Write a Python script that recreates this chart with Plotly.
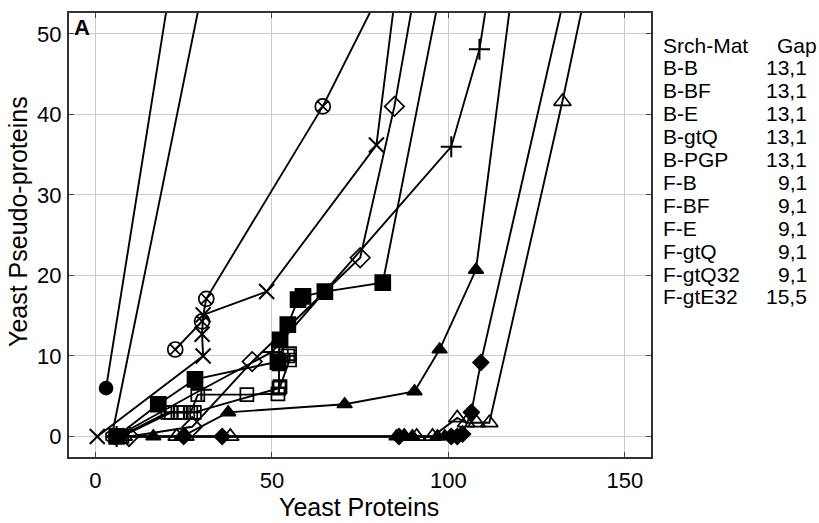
import plotly.graph_objects as go

# ---------------- data ----------------
fcircle_x = [3, 23.4]
fcircle_y = [6, 62]

hexo_x = [4.6, 33.3]
hexo_y = [0, 62]

xmark_x = [0.5, 30.5, 30.2, 30.5, 48.5, 79.6, 87.0]
xmark_y = [0, 10, 12.7, 15.1, 18, 36.2, 62]

cx_x = [22.6, 30.2, 31.4, 64.4, 88.5]
cx_y = [10.8, 14.3, 17.1, 41, 62]

dopen_x = [9.5, 27.4, 44.4, 75.0, 84.7, 93.2]
dopen_y = [0, 1.2, 9.3, 22.2, 41, 62]

fsq_x = [6, 17.8, 28.2, 51.7, 52.3, 54.5, 57.4, 58.8, 65, 81.4, 100.7]
fsq_y = [0, 4, 7.1, 9.3, 12, 13.9, 17, 17.4, 18, 19.1, 62]

osq_x = [7, 20.5, 24, 27, 29, 42.9, 51.7, 52.3, 55, 55]
osq_y = [0, 3, 3, 3, 5.2, 5.2, 5.3, 6.2, 9.5, 10.3]

sqplus_x = [7.5, 21.5, 25, 28, 52, 52, 54.5]
sqplus_y = [0, 3, 3, 3, 6, 9, 10]

plus_x = [6, 30, 50, 100.8, 108.8, 113.8]
plus_y = [0, 5.8, 10.5, 36, 48.1, 62]

ftri_x = [6.5, 16.4, 24.5, 37.6, 70.6, 90.4, 97.5, 107.8, 120.0]
ftri_y = [0, 0, 0, 3, 4, 5.6, 10.8, 20.7, 62]

ftri0_x = [25, 85.3, 87.5, 89.8, 96.9, 99]
ftri0_y = [0, 0, 0, 0, 0, 0]

fdia_x = [5.5, 25, 35.9, 86, 100.8, 102.5, 104, 106.5, 109.2, 136.7]
fdia_y = [0, 0, 0, 0, 0, 0, 0.3, 3, 9.2, 62]

otri_x = [8, 23, 25.5, 38.2, 87.5, 91, 95.5, 102.5, 105, 108, 111.6, 132.3, 142.1]
otri_y = [0, 0, 0, 0, 0, 0, 0, 2.3, 1.7, 1.7, 1.7, 41.6, 62]

legend_names = ["B-B", "B-BF", "B-E", "B-gtQ", "B-PGP", "F-B", "F-BF", "F-E",
                "F-gtQ", "F-gtQ32", "F-gtE32"]
legend_gaps = ["13,1", "13,1", "13,1", "13,1", "13,1", "9,1", "9,1", "9,1",
               "9,1", "9,1", "15,5"]

x_ticks = [0, 50, 100, 150]
y_ticks = [0, 10, 20, 30, 40, 50]

# ---------------- figure ----------------
FONT = "Arial, Liberation Sans, sans-serif"
fig = go.Figure()

def add(x, y, symbol, size, lw=1.9, mlw=1.7, mode="lines+markers"):
    fig.add_trace(go.Scatter(
        x=x, y=y, mode=mode,
        line=dict(color="black", width=lw),
        marker=dict(symbol=symbol, size=size, color="black",
                    line=dict(color="black", width=mlw)),
        showlegend=False, hoverinfo="skip"))

add(fcircle_x, fcircle_y, "circle", 13)
add(hexo_x, hexo_y, "hexagon-open", 13)
add(xmark_x, xmark_y, "x-thin-open", 15, mlw=2)
add(cx_x, cx_y, "circle-x-open", 15)
add(dopen_x, dopen_y, "diamond-open", 15)
add(fsq_x, fsq_y, "square", 15)
add(osq_x, osq_y, "square-open", 13)
add(sqplus_x, sqplus_y, "square-cross-open", 13)
add(plus_x, plus_y, "cross-thin-open", 15, mlw=2)
add(ftri_x, ftri_y, "triangle-up", 13)
add(ftri0_x, ftri0_y, "triangle-up", 13)
add(fdia_x, fdia_y, "diamond", 12)
add(otri_x, otri_y, "triangle-up-open", 15)

axis_common = dict(
    showgrid=True, gridcolor="#cccccc", gridwidth=1, zeroline=False,
    showline=True, linecolor="#333333", linewidth=2, mirror="ticks",
    ticks="inside", ticklen=5, tickcolor="#444444", tickwidth=1,
    tickfont=dict(family=FONT, size=22, color="black"),
)
fig.update_xaxes(range=[-7.5, 157.4], tickvals=x_ticks, ticklabelstandoff=3,
                 **axis_common)
fig.update_yaxes(range=[-2.55, 52.6], tickvals=y_ticks, ticklabelstandoff=1,
                 **axis_common)

PL, PR, PT, PB = 69, 651, 13, 457
W, H = 819, 523

def px(xp):
    return (xp - PL) / (PR - PL)

def py(yp):
    return (PB - yp) / (PB - PT)

ann = []
ann.append(dict(text="Yeast Proteins", x=px(359), y=py(507), xref="paper", yref="paper",
                showarrow=False, xanchor="center", yanchor="middle",
                font=dict(family=FONT, size=25, color="black")))
ann.append(dict(text="Yeast Pseudo-proteins", x=px(18), y=py(222), xref="paper", yref="paper",
                showarrow=False, xanchor="center", yanchor="middle", textangle=-90,
                font=dict(family=FONT, size=25, color="black")))
ann.append(dict(text="<b>A</b>", x=px(82), y=py(28), xref="paper", yref="paper",
                showarrow=False, xanchor="center", yanchor="middle",
                font=dict(family=FONT, size=22, color="black")))

row0 = 45
step = 22.9
LFS = 21
ann.append(dict(text="Srch-Mat", x=px(661), y=py(row0), xref="paper", yref="paper",
                showarrow=False, xanchor="left", yanchor="middle",
                font=dict(family=FONT, size=LFS, color="black")))
ann.append(dict(text="Gap", x=px(819), y=py(row0), xref="paper", yref="paper",
                showarrow=False, xanchor="right", yanchor="middle",
                font=dict(family=FONT, size=LFS, color="black")))
for i, (nm, gp) in enumerate(zip(legend_names, legend_gaps)):
    yy = row0 + step * (i + 1)
    ann.append(dict(text=nm, x=px(661), y=py(yy), xref="paper", yref="paper",
                    showarrow=False, xanchor="left", yanchor="middle",
                    font=dict(family=FONT, size=LFS, color="black")))
    ann.append(dict(text=gp, x=px(809), y=py(yy), xref="paper", yref="paper",
                    showarrow=False, xanchor="right", yanchor="middle",
                    font=dict(family=FONT, size=LFS, color="black")))

fig.update_layout(
    width=W, height=H,
    margin=dict(l=PL, r=W - PR, t=PT, b=H - PB, pad=0),
    plot_bgcolor="white", paper_bgcolor="white",
    showlegend=False, annotations=ann,
    font=dict(family=FONT, color="black"),
)

fig.write_html("out.html", config={"displayModeBar": False},
               post_script="document.body.style.margin='0px';document.body.style.overflow='hidden';")
